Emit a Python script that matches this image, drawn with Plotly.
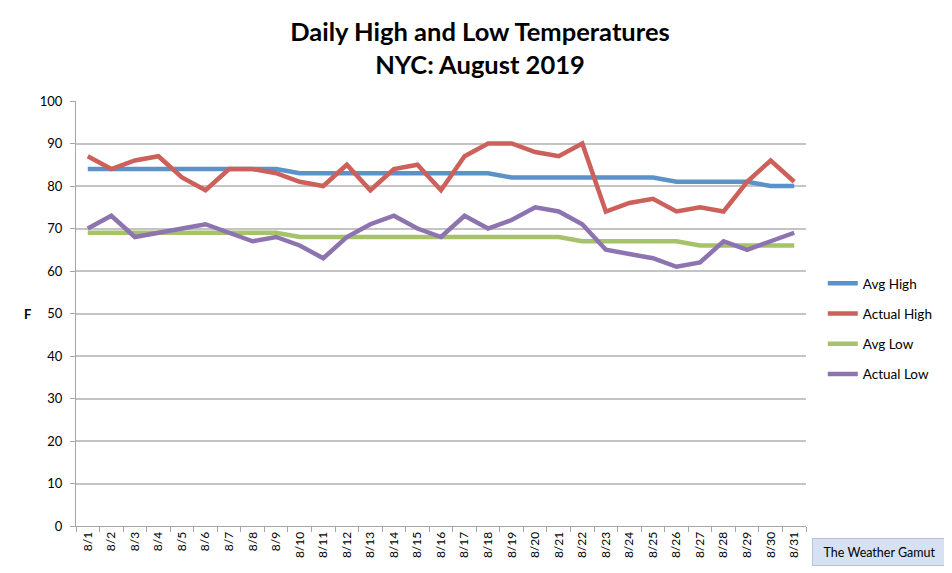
import plotly.graph_objects as go

days = ["8/%d" % d for d in range(1, 32)]

avg_high = [84, 84, 84, 84, 84, 84, 84, 84, 84, 83, 83, 83, 83, 83, 83, 83,
            83, 83, 82, 82, 82, 82, 82, 82, 82, 81, 81, 81, 81, 80, 80]
actual_high = [87, 84, 86, 87, 82, 79, 84, 84, 83, 81, 80, 85, 79, 84, 85, 79,
               87, 90, 90, 88, 87, 90, 74, 76, 77, 74, 75, 74, 81, 86, 81]
avg_low = [69, 69, 69, 69, 69, 69, 69, 69, 69, 68, 68, 68, 68, 68, 68, 68,
           68, 68, 68, 68, 68, 67, 67, 67, 67, 67, 66, 66, 66, 66, 66]
actual_low = [70, 73, 68, 69, 70, 71, 69, 67, 68, 66, 63, 68, 71, 73, 70, 68,
              73, 70, 72, 75, 74, 71, 65, 64, 63, 61, 62, 67, 65, 67, 69]

series = [
    ("Avg High", avg_high, "#5b92c8"),
    ("Actual High", actual_high, "#cc605a"),
    ("Avg Low", avg_low, "#a6c26a"),
    ("Actual Low", actual_low, "#8d74b0"),
]

FONT = "Lato, 'Open Sans', sans-serif"

fig = go.Figure()
for name, vals, color in series:
    fig.add_trace(go.Scatter(
        x=days, y=vals, name=name, mode="lines",
        line=dict(color=color, width=4.5),
        legendgroup=name,
    ))

# page body has an 8px margin, so the figure is a bit smaller than the window
fig.update_layout(
    width=944, height=565,
    margin=dict(l=68, r=146, t=93, b=47),
    paper_bgcolor="white", plot_bgcolor="white",
    font=dict(family=FONT, size=12, color="black"),
    title=dict(
        text="<b>Daily High and Low Temperatures<br>NYC: August 2019</b>",
        x=0.5, xanchor="center", y=0.942, yanchor="top",
        font=dict(family=FONT, size=25.5, color="black"),
    ),
    legend=dict(
        x=1.023, y=0.607, xanchor="left", yanchor="top",
        font=dict(family=FONT, size=13.5),
        tracegroupgap=9.7, traceorder="grouped",
    ),
    showlegend=True,
)

fig.update_xaxes(
    type="category", range=[-0.5, 30.5],
    tickangle=-90, tickfont=dict(size=12),
    ticks="outside", tickson="boundaries", ticklen=5,
    tickcolor="#a6a6a6", showline=True, linecolor="#a6a6a6", linewidth=1,
    showgrid=False,
)
fig.update_yaxes(
    range=[0, 100], dtick=10,
    tickfont=dict(size=13), ticklabelstandoff=5,
    ticks="outside", ticklen=5, tickcolor="#a6a6a6",
    showline=True, linecolor="#a6a6a6", linewidth=1,
    showgrid=True, gridcolor="#c4c4c4", gridwidth=1.5,
    zeroline=False,
)

fig.add_annotation(
    text="<b>F</b>", xref="paper", yref="paper", x=-0.066, y=0.5,
    xanchor="center", yanchor="middle", showarrow=False,
    font=dict(family=FONT, size=13),
)

fig.add_annotation(
    text="The Weather Gamut", xref="paper", yref="paper",
    x=1.1007, y=-0.028, xanchor="center", yanchor="top", showarrow=False,
    font=dict(family=FONT, size=12.5),
    bgcolor="#d6e2f3", bordercolor="#b8c3d2", borderwidth=1,
    width=131, height=24, borderpad=1,
)

fig.write_html("out.html")
